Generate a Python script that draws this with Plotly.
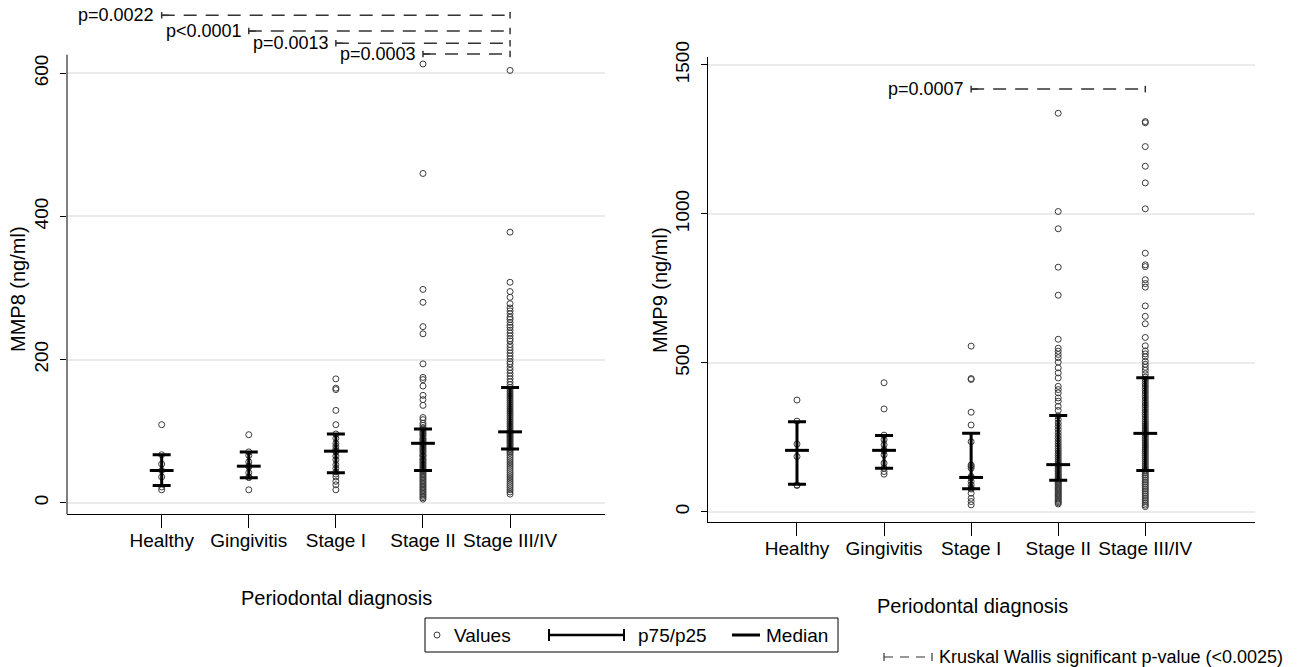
import plotly.graph_objects as go

# ---------------- data ----------------
categories = ["Healthy", "Gingivitis", "Stage I", "Stage II", "Stage III/IV"]
cat_pos = [1, 2, 3, 4, 5]

# MMP8 (ng/ml) individual values per group
mmp8_healthy = [109, 67, 54, 45, 36, 22, 18]
mmp8_gingivitis = [95, 71, 66, 57, 51, 50, 42, 36, 35, 18]
mmp8_stage1 = [173, 160, 158, 129, 109, 96, 90, 83, 79, 75, 72, 71, 65, 60, 53, 48, 43, 40, 36, 30, 25, 18]
mmp8_stage2 = [613, 460, 298, 280, 246, 236, 194, 175, 172, 163, 150, 144, 136, 119, 116,
               111, 108, 105, 103, 101, 99, 97, 95, 93, 90, 89, 87, 85, 84, 83, 82, 80, 78, 76, 74,
               72, 70, 67, 66, 64, 61, 60, 58, 56, 54, 52, 50, 48, 46, 45, 43, 41, 39, 37, 35, 33,
               31, 29, 27, 25, 23, 21, 19, 17, 15, 13, 11, 9, 7, 5]
mmp8_stage3 = [604, 378, 308, 295, 287, 278, 272, 268, 264, 259, 256, 252, 248, 245, 241, 237, 233,
               229, 226, 221, 217, 213, 209, 205, 201, 197, 194, 189, 185, 181, 177, 173, 169, 165,
               161, 158, 155, 152, 149, 146, 143, 140, 137, 134, 131, 128, 125, 122, 119, 116, 113,
               110, 107, 104, 101, 99, 97, 95, 93, 91, 89, 87, 85, 83, 81, 79, 77, 75, 73, 71, 69,
               66, 63, 60, 57, 54, 51, 48, 45, 42, 39, 36, 33, 30, 27, 24, 21, 18, 15, 12]
mmp8_p25 = [24, 35, 42, 45, 75]
mmp8_median = [45, 51, 72, 83, 99]
mmp8_p75 = [67, 71, 96, 103, 161]

# MMP9 (ng/ml) individual values per group
mmp9_healthy = [375, 304, 227, 185, 90, 88]
mmp9_gingivitis = [433, 345, 257, 242, 225, 208, 204, 191, 163, 146, 135, 126]
mmp9_stage1 = [556, 447, 444, 334, 291, 235, 157, 152, 146, 118, 114, 101, 90, 80, 76, 62, 45, 34, 23]
mmp9_stage2 = [1338, 1008, 950, 821, 727, 579, 549, 539, 528, 517, 502, 483, 466, 449, 421, 410, 399,
               382, 371, 354, 340, 322, 310, 298, 287, 276, 265, 255, 246, 237, 228, 220, 212, 204,
               196, 189, 182, 175, 168, 162, 158, 154, 149, 144, 139, 134, 129, 124, 119, 114, 110,
               106, 102, 98, 94, 90, 86, 82, 78, 74, 70, 66, 62, 58, 54, 50, 46, 42, 38, 34, 30, 26]
mmp9_stage3 = [1310, 1306, 1226, 1160, 1104, 1017, 868, 829, 823, 779, 766, 754, 691, 656, 631, 585,
               557, 540, 530, 520, 505, 495, 485, 475, 463, 452, 445, 438, 430, 422, 414, 406, 398,
               390, 382, 374, 366, 358, 350, 342, 334, 326, 318, 310, 302, 295, 288, 281, 274, 267,
               263, 259, 252, 245, 238, 231, 224, 217, 210, 203, 196, 189, 182, 175, 168, 161, 154,
               147, 140, 136, 130, 124, 118, 112, 106, 100, 94, 88, 82, 76, 70, 64, 58, 52, 46, 40,
               34, 28, 22, 17]
mmp9_p25 = [92, 146, 77, 106, 138]
mmp9_median = [206, 206, 115, 158, 263]
mmp9_p75 = [302, 256, 263, 323, 450]

# Kruskal Wallis significant comparisons
mmp8_p_labels = ["p=0.0022", "p<0.0001", "p=0.0013", "p=0.0003"]
mmp8_p_from = [1, 2, 3, 4]
mmp8_p_to = [5, 5, 5, 5]
mmp9_p_labels = ["p=0.0007"]
mmp9_p_from = [3]
mmp9_p_to = [5]

# ---------------- layout helpers ----------------
W, H = 1303, 667
FONT = "Liberation Sans, Arial, sans-serif"
PT_COLOR = "#3c3c3c"


def px(x):
    return x / W


def py(y):
    return 1 - y / H


fig = go.Figure()

panels = [
    dict(xa="x", ya="y", groups=[mmp8_healthy, mmp8_gingivitis, mmp8_stage1, mmp8_stage2, mmp8_stage3],
         p25=mmp8_p25, med=mmp8_median, p75=mmp8_p75),
    dict(xa="x2", ya="y2", groups=[mmp9_healthy, mmp9_gingivitis, mmp9_stage1, mmp9_stage2, mmp9_stage3],
         p25=mmp9_p25, med=mmp9_median, p75=mmp9_p75),
]

for p in panels:
    xs, ys = [], []
    for c, vals in zip(cat_pos, p["groups"]):
        xs += [c] * len(vals)
        ys += vals
    fig.add_trace(go.Scatter(
        x=xs, y=ys, mode="markers", xaxis=p["xa"], yaxis=p["ya"], showlegend=False,
        marker=dict(symbol="circle-open", size=6, color=PT_COLOR, line=dict(width=1, color=PT_COLOR)),
        hoverinfo="skip"))
    fig.add_trace(go.Scatter(
        x=cat_pos, y=p["med"], mode="markers", xaxis=p["xa"], yaxis=p["ya"], showlegend=False,
        marker=dict(symbol="line-ew", size=17, color="black", line=dict(width=3, color="black")),
        error_y=dict(type="data", symmetric=False,
                     array=[b - m for b, m in zip(p["p75"], p["med"])],
                     arrayminus=[m - a for m, a in zip(p["med"], p["p25"])],
                     thickness=3, width=9, color="black"),
        hoverinfo="skip"))

# axis geometry (pixels)
L_LEFT, L_RIGHT, L_BOT, L_TOP = 67, 605, 514, 5
R_LEFT, R_RIGHT, R_BOT, R_TOP = 708, 1255, 522, 57
L_YR = [-15.8, 695.4]
R_YR = [-34.6, 1526.8]
L_XR = [-0.087, 6.09]
R_XR = [-0.022, 6.26]

axis_common = dict(showline=True, linecolor="black", linewidth=1, ticks="outside", automargin=False,
                   tickcolor="black", zeroline=False, tickfont=dict(family=FONT, size=19, color="black"))

fig.update_layout(
    width=W, height=H, autosize=False,
    margin=dict(l=0, r=0, t=0, b=0, pad=0),
    paper_bgcolor="white", plot_bgcolor="white",
    font=dict(family=FONT, color="black"),
    xaxis=dict(domain=[px(L_LEFT), px(L_RIGHT)], range=L_XR, tickvals=cat_pos, ticktext=categories,
               ticklen=13, ticklabelstandoff=-4, showgrid=False, anchor="y", **axis_common),
    yaxis=dict(domain=[py(L_BOT), py(L_TOP)], range=L_YR, tickvals=[0, 200, 400, 600],
               ticklen=6, tickangle=-90, ticklabelstandoff=4, showgrid=True, gridcolor="#ebebeb",
               gridwidth=1.5, anchor="x", **{**axis_common, "showline": False}),
    xaxis2=dict(domain=[px(R_LEFT), px(R_RIGHT)], range=R_XR, tickvals=cat_pos, ticktext=categories,
                ticklen=13, ticklabelstandoff=-4, showgrid=False, anchor="y2", **axis_common),
    yaxis2=dict(domain=[py(R_BOT), py(R_TOP)], range=R_YR, tickvals=[0, 500, 1000, 1500],
                ticklen=6, tickangle=-90, ticklabelstandoff=4, showgrid=True, gridcolor="#ebebeb",
                gridwidth=1.5, anchor="x2", **axis_common),
)

shapes = []
annotations = []

# left y axis line (stops just above 600 like the reference)
shapes.append(dict(type="line", xref="paper", yref="y", x0=px(L_LEFT), x1=px(L_LEFT),
                   y0=L_YR[0], y1=626, line=dict(color="black", width=1)))

# p-value brackets
DASH = "13px,9px"


def bracket(xref, yref, x0, x1, level, cap, label):
    shapes.append(dict(type="line", xref=xref, yref=yref, x0=x0, x1=x1, y0=level, y1=level,
                       line=dict(color="#333333", width=1.5, dash=DASH)))
    for xx in (x0, x1):
        shapes.append(dict(type="line", xref=xref, yref=yref, x0=xx, x1=xx, y0=level - cap,
                           y1=level + cap, line=dict(color="#333333", width=1.5)))
    shapes.append(dict(type="line", xref=xref, yref=yref, x0=x0, x1=x0 + 0.08, y0=level, y1=level,
                       line=dict(color="#333333", width=1.5)))
    annotations.append(dict(xref=xref, yref=yref, x=x0 - 0.06, y=level, text=label, showarrow=False,
                            xanchor="right", yanchor="middle",
                            font=dict(family=FONT, size=18, color="black")))


l_levels = [681, 659, 642, 627]
for lab, a, b, lev in zip(mmp8_p_labels, mmp8_p_from, mmp8_p_to, l_levels):
    bracket("x", "y", a, b, lev, 4.5, lab)
for lab, a, b in zip(mmp9_p_labels, mmp9_p_from, mmp9_p_to):
    bracket("x2", "y2", a, b, 1419, 11, lab)

# axis titles
tf = dict(family=FONT, size=20, color="black")
annotations += [
    dict(xref="paper", yref="paper", x=px(18), y=py(289), text="MMP8 (ng/ml)", textangle=-90,
         showarrow=False, font=tf, xanchor="center", yanchor="middle"),
    dict(xref="paper", yref="paper", x=px(660), y=py(290), text="MMP9 (ng/ml)", textangle=-90,
         showarrow=False, font=tf, xanchor="center", yanchor="middle"),
    dict(xref="paper", yref="paper", x=px(336), y=py(598), text="Periodontal diagnosis",
         showarrow=False, font=tf, xanchor="center", yanchor="middle"),
    dict(xref="paper", yref="paper", x=px(972), y=py(606), text="Periodontal diagnosis",
         showarrow=False, font=tf, xanchor="center", yanchor="middle"),
]

# legend box
LY = 635
shapes += [
    dict(type="rect", xref="paper", yref="paper", x0=px(425), x1=px(838), y0=py(652), y1=py(618),
         line=dict(color="black", width=1), fillcolor="rgba(0,0,0,0)"),
    dict(type="circle", xref="paper", yref="paper", x0=px(434), x1=px(440), y0=py(LY + 3), y1=py(LY - 3),
         line=dict(color=PT_COLOR, width=1)),
    dict(type="line", xref="paper", yref="paper", x0=px(549), x1=px(624), y0=py(LY), y1=py(LY),
         line=dict(color="black", width=2.5)),
    dict(type="line", xref="paper", yref="paper", x0=px(549), x1=px(549), y0=py(LY - 6), y1=py(LY + 6),
         line=dict(color="black", width=2)),
    dict(type="line", xref="paper", yref="paper", x0=px(624), x1=px(624), y0=py(LY - 6), y1=py(LY + 6),
         line=dict(color="black", width=2)),
    dict(type="line", xref="paper", yref="paper", x0=px(732), x1=px(760), y0=py(LY), y1=py(LY),
         line=dict(color="black", width=3)),
]
lf = dict(family=FONT, size=19, color="black")
annotations += [
    dict(xref="paper", yref="paper", x=px(452), y=py(LY), text="Values", showarrow=False, font=lf,
         xanchor="left", yanchor="middle"),
    dict(xref="paper", yref="paper", x=px(636), y=py(LY), text="p75/p25", showarrow=False, font=lf,
         xanchor="left", yanchor="middle"),
    dict(xref="paper", yref="paper", x=px(764), y=py(LY), text="Median", showarrow=False, font=lf,
         xanchor="left", yanchor="middle"),
]

# Kruskal Wallis note
NY = 657
shapes += [
    dict(type="line", xref="paper", yref="paper", x0=px(884), x1=px(932), y0=py(NY), y1=py(NY),
         line=dict(color="#333333", width=1.2, dash="9px,7px")),
    dict(type="line", xref="paper", yref="paper", x0=px(884), x1=px(884), y0=py(NY - 4), y1=py(NY + 4),
         line=dict(color="#333333", width=1.2)),
    dict(type="line", xref="paper", yref="paper", x0=px(932), x1=px(932), y0=py(NY - 4), y1=py(NY + 4),
         line=dict(color="#333333", width=1.2)),
]
annotations.append(dict(xref="paper", yref="paper", x=px(937), y=py(NY),
                        text="Kruskal Wallis significant p-value (<0.0025)", showarrow=False,
                        font=dict(family=FONT, size=18, color="black"), xanchor="left", yanchor="middle"))

fig.update_layout(shapes=shapes, annotations=annotations)

fig.write_html("out.html", config={"displayModeBar": False},
               post_script="document.body.style.margin='0px';")
